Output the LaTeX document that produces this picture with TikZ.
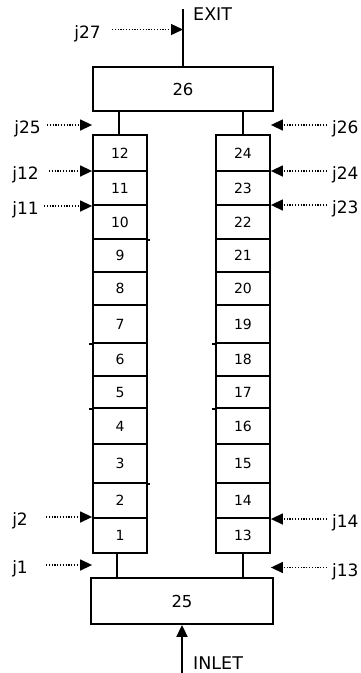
\documentclass[tikz,border=0pt]{standalone}
\usepackage{fontspec}
\setmainfont{DejaVu Sans}
\usetikzlibrary{arrows.meta}
\tikzset{
 cell/.style={draw, line width=1.8pt, minimum width=54pt, inner sep=0pt, font=\fontsize{14}{16}\selectfont},
 bigbox/.style={draw, line width=1.8pt, inner sep=0pt, font=\fontsize{16.5}{19}\selectfont},
 jlab/.style={inner sep=0pt, font=\fontsize{17}{20}\selectfont},
 portlab/.style={inner sep=0pt, font=\fontsize{17.5}{20}\selectfont},
 pipe/.style={line width=1.8pt},
 jarrow/.style={line width=1.4pt, dash pattern=on 1.2pt off 1.6pt, -{Triangle[length=12pt,width=11pt]}},
 flow/.style={line width=1.8pt, -{Triangle[length=12pt,width=11pt]}}
}
\begin{document}
\begin{tikzpicture}[x=1pt,y=-1pt]
\useasboundingbox (0,0) rectangle (361,673);
% big boxes
\node[bigbox, minimum width=180pt, minimum height=44pt] (b26) at (183,89) {26};
\node[bigbox, minimum width=182pt, minimum height=46pt] (b25) at (182,601) {25};
% cells
\foreach \n/\m/\t/\b in {12/24/135/171, 11/23/171/205, 10/22/205/239, 9/21/239/272,
  8/20/272/305, 7/19/305/343, 6/18/343/376, 5/17/376/408, 4/16/408/444,
  3/15/444/483, 2/14/483/518, 1/13/518/553}{
  \pgfmathsetmacro\h{\b-\t}
  \pgfmathsetmacro\c{(\t+\b)/2}
  \node[cell, minimum height=\h pt] (c\n) at (120,\c) {\n};
  \node[cell, minimum height=\h pt] (c\m) at (243,\c) {\m};
}
% small overshoots of separators
\draw[pipe] (c10.south east) -- ++(2.5,0);
\draw[pipe] (c3.south east) -- ++(2.5,0);
\draw[pipe] (c7.south west) -- ++(-3,0);
\draw[pipe] (c5.south west) -- ++(-3,0);
\draw[pipe] (c19.south west) -- ++(-3,0);
\draw[pipe] (c17.south west) -- ++(-3,0);
% stems
\draw[pipe] ([xshift=-1pt]c12.north) -- ([xshift=-1pt]c12.north |- b26.south);
\draw[pipe] (c24.north) -- (c24.north |- b26.south);
\draw[pipe] ([xshift=-3pt]c1.south) -- ([xshift=-3pt]c1.south |- b25.north);
\draw[pipe] (c13.south) -- (c13.south |- b25.north);
% exit and inlet
\coordinate (exitTop) at (183,9);
\draw[pipe] (b26.north) -- (exitTop);
\node[portlab, anchor=base west] (exit) at (193,20.7) {EXIT};
\coordinate (inBot) at (182,673);
\draw[flow] (inBot) -- (b25.south);
\node[portlab, anchor=base west] (inlet) at (193,669) {INLET};
% j27
\coordinate (s27) at (112,29.5);
\node[jlab, anchor=base east] (l27) at (101,38) {j27};
\draw[jarrow] (s27) -- (s27 -| exitTop);
% left side injections
\foreach \nm/\y/\sx/\lx in {25/125/47/41, 12/171/49/39, 11/206/44/39, 2/517/46/28, 1/565/46/28}{
  \coordinate (s\nm) at (\sx,\y);
  \node[jlab, anchor=base east] (l\nm) at (\lx,\y+8.5) {j\nm};
  \draw[jarrow] (s\nm) -- (s\nm -| c12.west);
}
% right side injections
\foreach \nm/\y in {26/125, 24/171, 23/205, 14/519, 13/567.5}{
  \coordinate (s\nm) at (327,\y);
  \node[jlab, anchor=base west] (l\nm) at (332,\y+8.5) {j\nm};
  \draw[jarrow] (s\nm) -- (s\nm -| c24.east);
}
\end{tikzpicture}
\end{document}
